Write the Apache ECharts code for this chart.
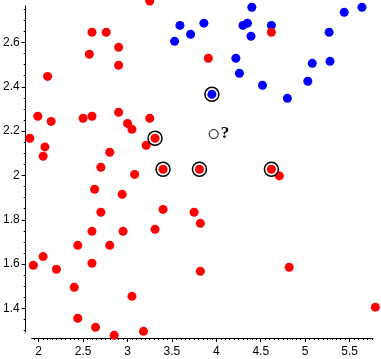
<!DOCTYPE html>
<html>
<head>
<meta charset="utf-8">
<script src="https://cdn.jsdelivr.net/npm/echarts@6/dist/echarts.min.js"></script>
<style>html,body{margin:0;padding:0;background:#fff}#c{width:381px;height:359px}</style>
</head>
<body>
<div id="c"></div>
<script>
var redX = [3.25,2.60,2.76,2.90,2.57,2.90,2.10,1.99,2.14,2.50,2.60,2.90,3.00,3.05,3.25,1.90,3.31,2.07,2.05,2.80,3.21,2.70,3.40,3.08,4.62,3.91,3.81,4.62,4.71,2.63,2.94,3.40,2.70,2.60,2.95,3.31,2.44,2.80,1.94,2.05,2.20,2.60,2.40,3.05,2.44,2.64,2.85,3.18,3.75,3.82,3.82,4.82,5.79];
var redY = [2.787,2.646,2.646,2.578,2.547,2.497,2.447,2.267,2.244,2.258,2.267,2.285,2.235,2.208,2.258,2.168,2.168,2.129,2.087,2.105,2.136,2.037,2.028,2.005,2.646,2.529,2.028,2.028,1.998,1.938,1.915,1.847,1.834,1.748,1.748,1.757,1.685,1.685,1.595,1.634,1.577,1.604,1.496,1.455,1.356,1.315,1.279,1.297,1.834,1.784,1.568,1.586,1.406];
var blueX = [3.59,3.53,3.71,4.40,3.86,4.30,4.35,4.62,4.39,5.27,5.44,5.64,4.22,4.26,5.08,5.28,4.52,5.03,4.80,3.95];
var blueY = [2.677,2.605,2.637,2.759,2.687,2.677,2.687,2.677,2.628,2.646,2.736,2.759,2.529,2.461,2.506,2.515,2.407,2.425,2.348,2.366];
var ringX = [3.31,3.40,3.81,4.62,3.95];
var ringY = [2.168,2.028,2.028,2.028,2.366];
var queryX = [3.97];
var queryY = [2.187];
var queryLabel = '?';
var xTickLabels = [2,2.5,3,3.5,4,4.5,5,5.5];
var yTickLabels = [1.4,1.6,1.8,2,2.2,2.4,2.6];
var xRange = [1.921, 5.764];
var yRange = [1.294, 2.7645];

function zip(a,b){return a.map(function(v,i){return [v,b[i]];});}
function minor(lo,hi,step){var r=[];for(var v=lo;v<=hi+1e-9;v+=step){r.push(Math.round(v*100)/100);}return r;}
var xMinor = minor(1.95,5.75,0.05);
var yMinor = minor(1.30,2.75,0.05);

var lab = {color:'#000',fontFamily:'Liberation Sans, Arial, sans-serif',fontSize:12};
var line = {show:true,lineStyle:{color:'#000',width:1}};

var chart = echarts.init(document.getElementById('c'),null,{renderer:'canvas'});
chart.setOption({
  animation:false,
  grid:{left:31,right:8,top:6,bottom:27},
  xAxis:[
    {type:'value',min:xRange[0],max:xRange[1],position:'bottom',offset:6,axisLine:line,
     axisTick:{show:true,customValues:xTickLabels,length:4,lineStyle:{color:'#000'}},
     axisLabel:Object.assign({customValues:xTickLabels,margin:8},lab),splitLine:{show:false}},
    {type:'value',min:xRange[0],max:xRange[1],position:'bottom',offset:6,axisLine:{show:false},
     axisTick:{show:true,customValues:xMinor,length:2,lineStyle:{color:'#000'}},
     axisLabel:{show:false},splitLine:{show:false}}
  ],
  yAxis:[
    {type:'value',min:yRange[0],max:yRange[1],position:'left',offset:6,axisLine:line,
     axisTick:{show:true,customValues:yTickLabels,length:4,lineStyle:{color:'#000'}},
     axisLabel:Object.assign({customValues:yTickLabels,margin:6},lab),splitLine:{show:false}},
    {type:'value',min:yRange[0],max:yRange[1],position:'left',offset:6,axisLine:{show:false},
     axisTick:{show:true,customValues:yMinor,length:2,lineStyle:{color:'#000'}},
     axisLabel:{show:false},splitLine:{show:false}}
  ],
  series:[
    {type:'scatter',clip:false,data:zip(blueX,blueY),symbol:'circle',symbolSize:9,itemStyle:{color:'#0000ff',opacity:1}},
    {type:'scatter',clip:false,data:zip(redX,redY),symbol:'circle',symbolSize:9,itemStyle:{color:'#ff0000',opacity:1}},
    {type:'scatter',clip:false,data:zip(ringX,ringY),symbol:'circle',symbolSize:14,itemStyle:{color:'rgba(0,0,0,0)',borderColor:'#000',borderWidth:1.5,opacity:1}},
    {type:'scatter',clip:false,data:zip(queryX,queryY),symbol:'circle',symbolSize:9,itemStyle:{color:'#fff',borderColor:'#000',borderWidth:1,opacity:1},
     label:{show:true,formatter:queryLabel,position:'right',distance:2,color:'#000',fontFamily:'Liberation Serif, Times New Roman, serif',fontWeight:'bold',fontSize:17}}
  ]
});
</script>
</body>
</html>
